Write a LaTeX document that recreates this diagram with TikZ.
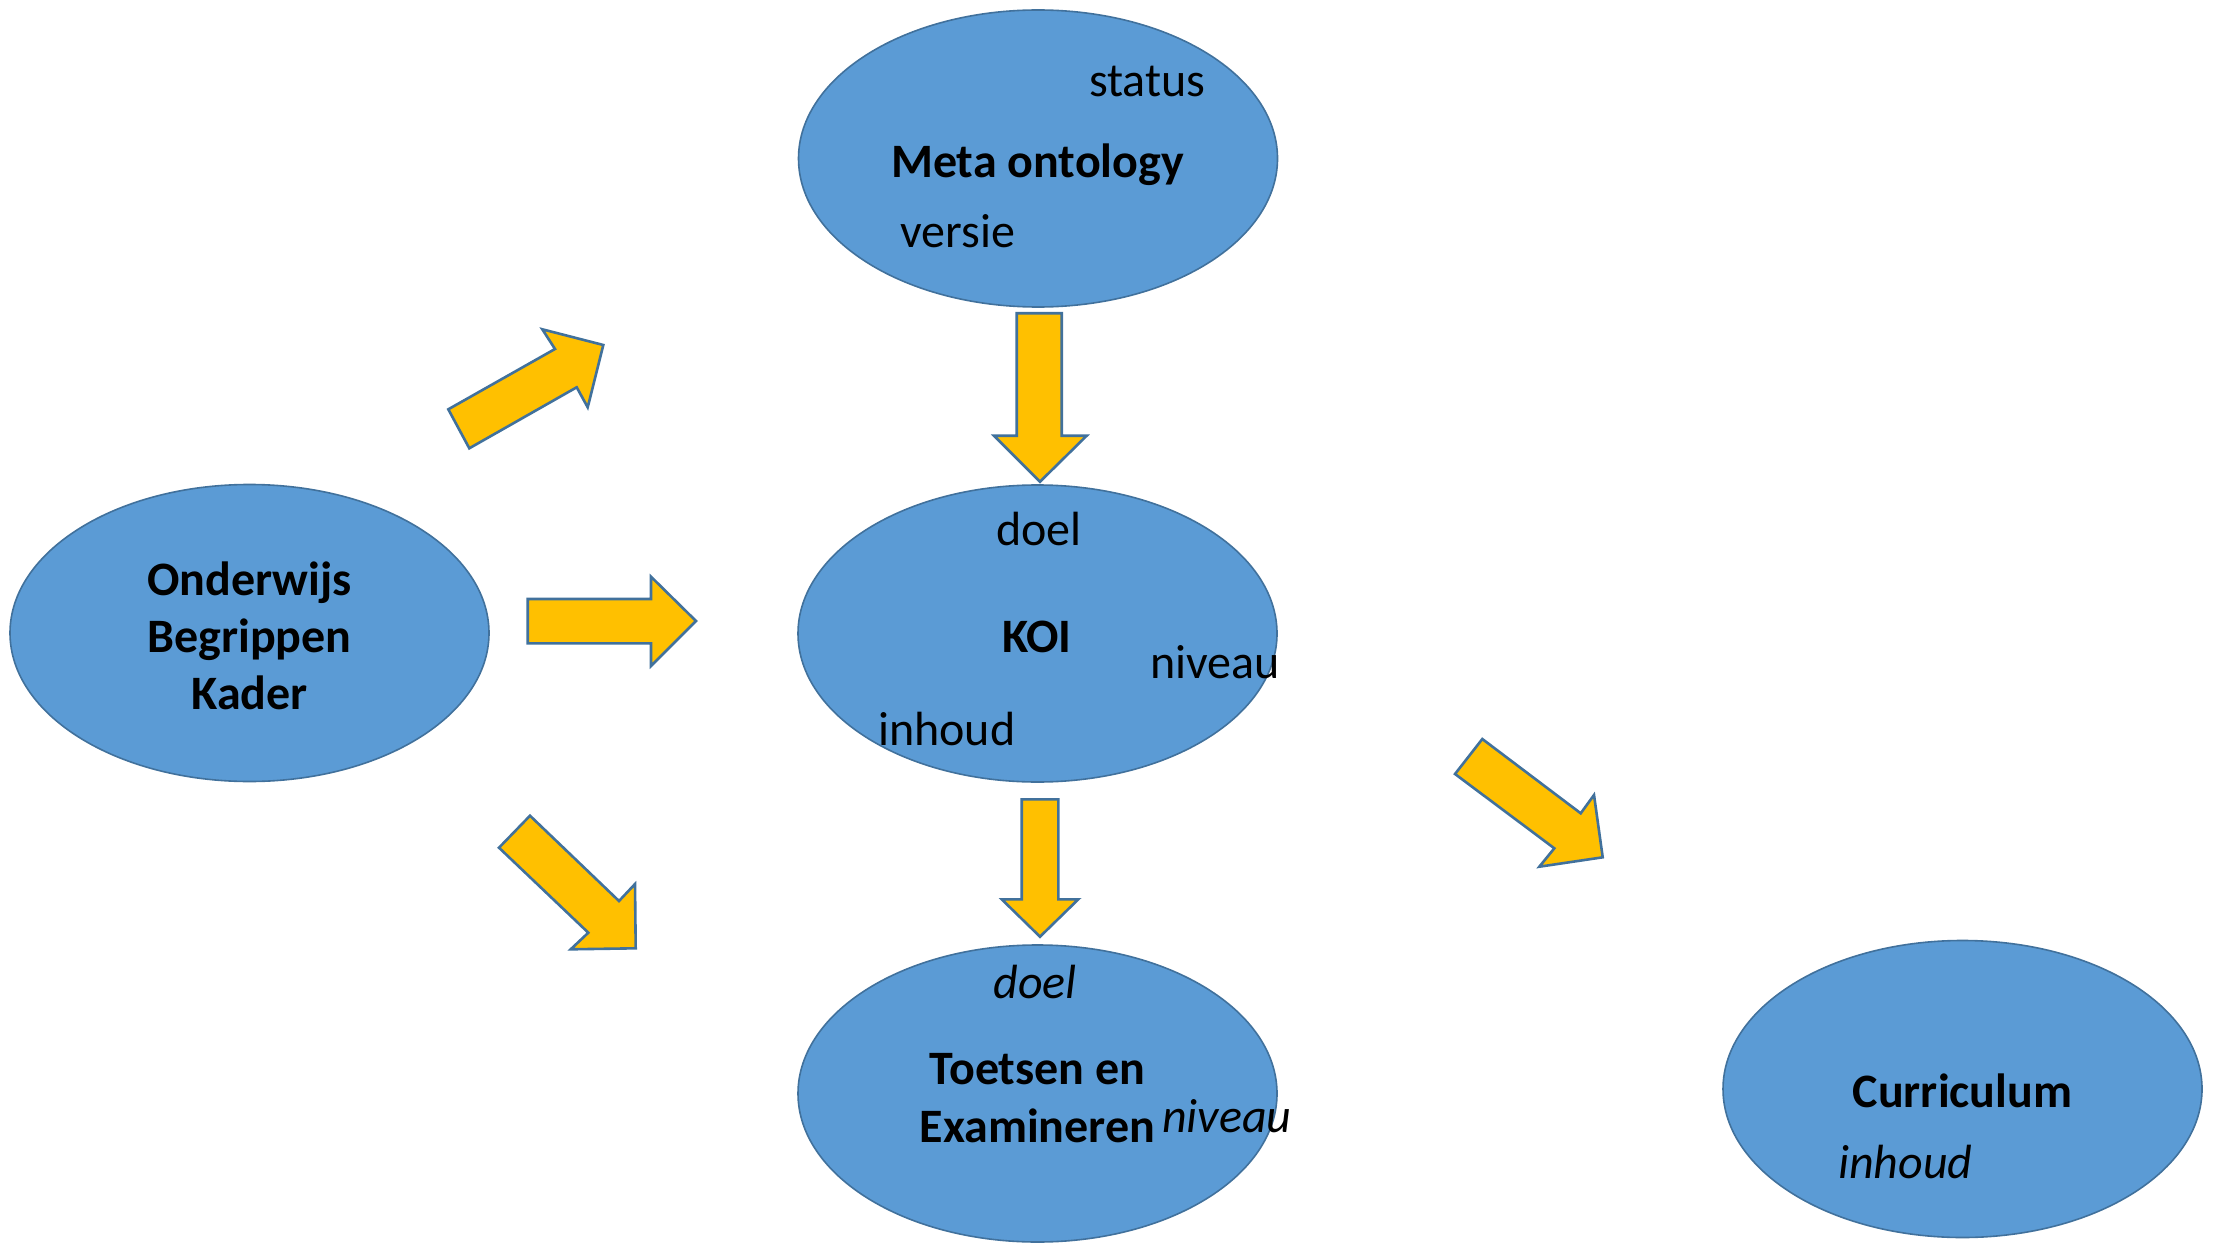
\documentclass[tikz,border=0pt]{standalone}
\usepackage{fontspec}
\setmainfont{Carlito}
\usetikzlibrary{shapes.geometric}
\definecolor{ellfill}{HTML}{5B9BD5}
\definecolor{ellline}{HTML}{41719C}
\definecolor{arrfill}{HTML}{FFC000}
\begin{document}
\begin{tikzpicture}[x=1pt,y=-1pt,
  bubble/.style={ellipse, draw=ellline, line width=1.6pt, fill=ellfill,
    minimum width=479pt, minimum height=297pt, inner sep=0pt},
  blockarrow/.style={draw=ellline, line width=2.6pt, fill=arrfill, line join=miter},
  txt/.style={font=\fontsize{48}{57}\selectfont, inner sep=0pt, anchor=base},
  txtl/.style={txt, anchor=base west},
  title/.style={txt, font=\fontsize{48}{57}\selectfont\bfseries},
  ital/.style={font=\fontsize{48}{57}\selectfont\itshape}]
\useasboundingbox (0,0) rectangle (2215,1246);

% ellipses
\node[bubble] (meta) at (1038,158.5) {};
\node[bubble] (obk) at (249.5,633) {};
\node[bubble] (koi) at (1037.5,633.5) {};
\node[bubble] (tee) at (1037.5,1093.5) {};
\node[bubble] (cur) at (1962.5,1089) {};

% Meta ontology texts
\node[txtl] (metastatus) at (1089,97) {status};
\node[title] (metatitle) at (1037.5,178) {Meta ontology};
\node[txtl] (metaversie) at (900,248) {versie};

% Onderwijs Begrippen Kader
\node[title] (obk1) at (249.5,595) {Onderwijs};
\node[title] (obk2) at (249.5,652) {Begrippen};
\node[title] (obk3) at (249.5,709) {Kader};

% KOI texts
\node[txt] (koidoel) at (1039,545) {doel};
\node[title] (koititle) at (1037,652) {KOI};
\node[txtl] (koiniveau) at (1150,678) {niveau};
\node[txtl] (koiinhoud) at (878,745) {inhoud};

% Toetsen en Examineren texts
\node[txt, ital] (teedoel) at (1035,998) {doel};
\node[title] (tee1) at (1037.5,1084) {Toetsen en};
\node[title] (tee2) at (1037.5,1142) {Examineren};
\node[txtl, ital] (teeniveau) at (1162,1132) {niveau};

% Curriculum texts
\node[title] (curtitle) at (1962.5,1107) {Curriculum};
\node[txtl, ital] (curinhoud) at (1838,1178) {inhoud};

% block arrows
\draw[blockarrow] (448.3,409.3) -- (555,349) -- (542.3,329.3) -- (603.3,345)
  -- (587.7,407.3) -- (576.7,387.3) -- (469.3,448.3) -- cycle;
\draw[blockarrow] (527.7,599) -- (651,599) -- (651,576.7) -- (696,621)
  -- (651,666) -- (651,643.3) -- (527.7,643.3) -- cycle;
\draw[blockarrow] (499,847.7) -- (530,815.7) -- (619,901) -- (635,884)
  -- (635.7,948.3) -- (570.7,949.3) -- (588.3,932.7) -- cycle;
\draw[blockarrow] (1016.7,313.3) -- (1061.7,313.3) -- (1061.7,435.7) -- (1086.7,435.7)
  -- (1040,481.7) -- (994,435.7) -- (1016.7,435.7) -- cycle;
\draw[blockarrow] (1021.7,799.3) -- (1058.3,799.3) -- (1058.3,899.3) -- (1078.3,899.3)
  -- (1040,936.7) -- (1001.7,899.3) -- (1021.7,899.3) -- cycle;
\draw[blockarrow] (1455,774) -- (1482.3,739) -- (1580.7,813.3) -- (1594,795)
  -- (1602.7,857.3) -- (1539.3,866.7) -- (1554.3,848.3) -- cycle;
\end{tikzpicture}
\end{document}
